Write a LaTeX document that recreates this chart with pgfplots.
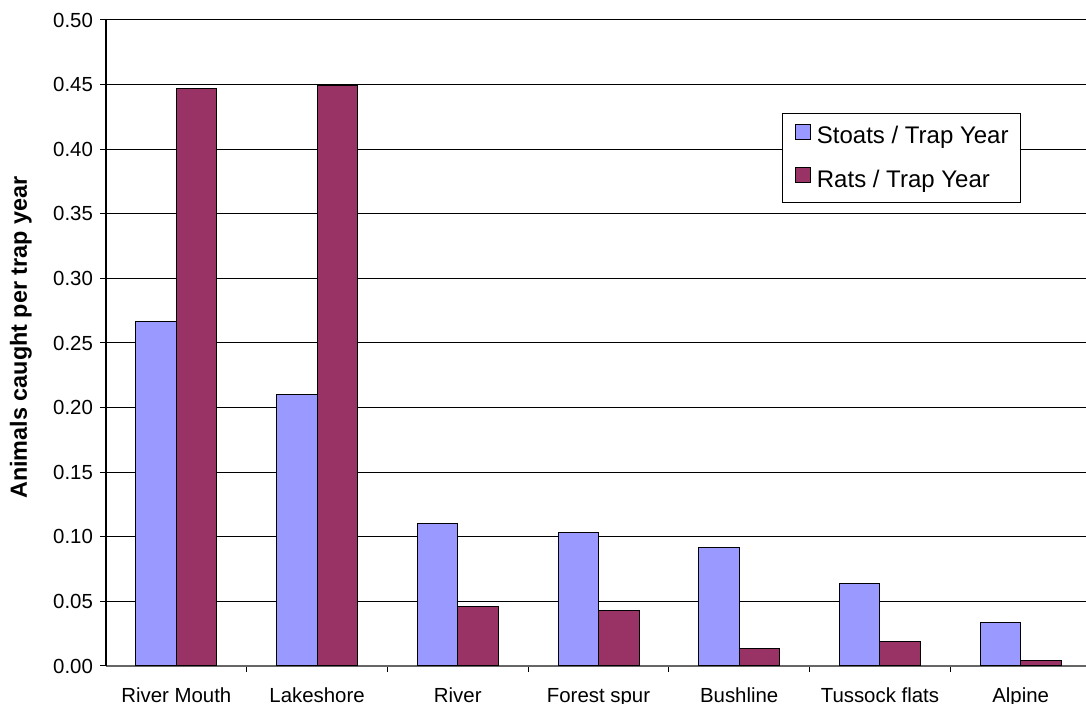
\documentclass[border=0pt]{standalone}
\usepackage{fontspec}
\setmainfont{Liberation Sans}
\usepackage{pgfplots}
\pgfplotsset{compat=1.18}
\definecolor{stoat}{HTML}{9999FF}
\definecolor{rat}{HTML}{993366}
\begin{document}
\begin{tikzpicture}
\useasboundingbox (-53pt,-19pt) rectangle (490pt,333pt);
\begin{axis}[
  anchor=south west, at={(0,0)},
  scale only axis, width=492.5pt, height=323pt,
  ybar=0pt, bar width=20.25pt,
  xmin=-0.5, xmax=6.5, ymin=0, ymax=0.5,
  axis x line*=bottom, axis y line*=left,
  x axis line style={draw=gray!80!black, line width=0.6pt},
  y axis line style={draw=black, line width=0.6pt},
  xtick={0,1,2,3,4,5,6},
  xticklabels={River Mouth,Lakeshore,River,Forest spur,Bushline,Tussock flats,Alpine},
  major x tick style={draw=none},
  minor xtick={0.5,1.5,2.5,3.5,4.5,5.5},
  minor x tick style={draw=black, line width=0.5pt},
  minor tick length=3pt,
  ytick={0,0.05,...,0.5},
  major tick length=3pt,
  tick align=outside,
  y tick style={draw=black, line width=0.5pt},
  ymajorgrids, major grid style={draw=black, line width=0.5pt},
  yticklabel style={/pgf/number format/.cd, fixed, fixed zerofill, precision=2, assume math mode=true},
  ticklabel style={font=\fontsize{10.2}{12}\selectfont},
  xticklabel style={anchor=base, yshift=-15.3pt, inner sep=0pt},
  ylabel={Animals caught per trap year},
  ylabel style={at={(axis description cs:-0.0863,0.5085)}, anchor=center, font=\fontsize{11.7}{14}\selectfont\bfseries},
  legend style={at={(axis description cs:0.929,0.8565)}, anchor=north east,
    draw=black, line width=0.5pt, fill=white,
    font=\fontsize{12}{14.4}\selectfont,
    inner xsep=6pt, inner ysep=5.25pt, row sep=9.5pt,
    nodes={inner sep=0pt, text height=8.5pt, text depth=2.5pt},
    /tikz/every odd column/.append style={column sep=3pt}},
  legend cell align=left,
  legend image code/.code={\draw[#1, line width=0.5pt] (0pt,-0.85pt) rectangle (7.5pt,6.65pt);},
]
\addplot[fill=stoat, draw=black, line width=0.5pt] coordinates {(0,0.267) (1,0.2105) (2,0.110) (3,0.103) (4,0.092) (5,0.0635) (6,0.034)};
\addplot[fill=rat, draw=black, line width=0.5pt] coordinates {(0,0.447) (1,0.449) (2,0.0464) (3,0.0433) (4,0.0139) (5,0.0186) (6,0.004)};
\legend{Stoats / Trap Year, Rats / Trap Year}
\end{axis}
\end{tikzpicture}
\end{document}
